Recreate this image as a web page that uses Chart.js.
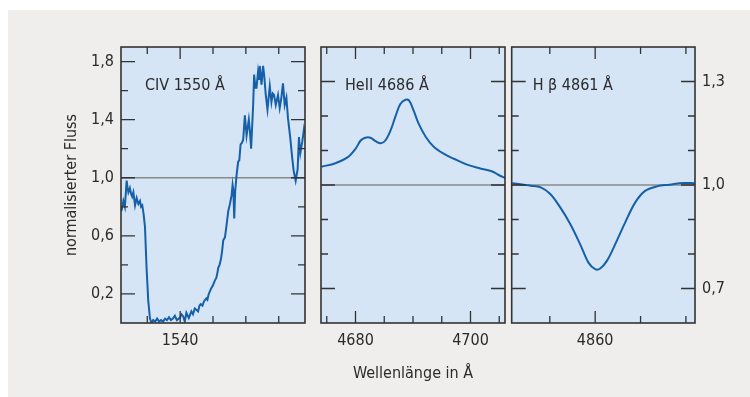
<!DOCTYPE html>
<html>
<head>
<meta charset="utf-8">
<script src="https://cdn.jsdelivr.net/npm/chart.js@4/dist/chart.umd.min.js"></script>
<style>
  body { margin: 0; background: #fff; width: 750px; height: 397px; overflow: hidden; position: relative; }
  #frame { position: absolute; left: 8px; top: 10px; width: 742px; height: 387px; background: #efeeec; }
  .panel { position: absolute; top: 37px; height: 350px; }
</style>
</head>
<body>
<div id="frame"></div>
<div class="panel" id="p1" style="left:40px;width:270px"><canvas id="civChart"></canvas></div>
<div class="panel" id="p2" style="left:315px;width:195px"><canvas id="heChart"></canvas></div>
<div class="panel" id="p3" style="left:505px;width:245px"><canvas id="hbChart"></canvas></div>
<script>
// CIV 1550 (P-Cygni profile)
const civWave = [1531.06, 1531.2, 1531.36, 1531.59, 1531.86, 1532.0, 1532.12, 1532.35, 1532.53, 1532.7, 1532.88,
  1533.14, 1533.38, 1533.64, 1533.89, 1534.05, 1534.24, 1534.44, 1534.65, 1534.89, 1535.15, 1535.41, 1535.65,
  1535.9, 1536.2, 1536.5, 1536.8, 1537.1, 1537.4, 1537.7, 1538.0, 1538.3, 1538.6, 1538.9, 1539.2, 1539.5,
  1539.95, 1540.2, 1540.45, 1540.71, 1540.95, 1541.32, 1541.71, 1541.95, 1542.23, 1542.5, 1542.73, 1542.95,
  1543.14, 1543.4, 1543.64, 1543.98, 1544.15, 1544.35, 1544.74, 1545.0, 1545.26, 1545.5, 1545.65, 1545.8,
  1546.0, 1546.21, 1546.4, 1546.56, 1546.82, 1547.08, 1547.32, 1547.58, 1547.83, 1547.98, 1548.1, 1548.23,
  1548.38, 1548.59, 1548.83, 1549.0, 1549.2, 1549.4, 1549.59, 1549.85, 1550.11, 1550.3, 1550.45, 1550.6,
  1550.8, 1551.11, 1551.26, 1551.45, 1551.62, 1551.86, 1552.0, 1552.12, 1552.38, 1552.62, 1552.8, 1553.03,
  1553.29, 1553.64, 1553.89, 1554.1, 1554.29, 1554.55, 1554.89, 1555.15, 1555.4, 1555.65, 1555.91, 1556.17,
  1556.41, 1556.77, 1557.02, 1557.27, 1557.58, 1557.88, 1558.08, 1558.29, 1558.59, 1558.83, 1558.94];
const civFlux = [0.77, 0.80, 0.84, 0.80, 0.98, 0.93, 0.90, 0.93, 0.89, 0.87, 0.90,
  0.81, 0.86, 0.82, 0.84, 0.80, 0.81, 0.75, 0.66, 0.38, 0.15, 0.03, 0.00,
  0.02, 0.01, 0.03, 0.01, 0.02, 0.01, 0.03, 0.02, 0.04, 0.02, 0.03, 0.05, 0.02,
  0.035, 0.06, 0.047, 0.01, 0.07, 0.035, 0.08, 0.06, 0.10, 0.09, 0.08, 0.12,
  0.13, 0.12, 0.15, 0.17, 0.16, 0.20, 0.24, 0.26, 0.29, 0.31, 0.34, 0.38,
  0.40, 0.44, 0.50, 0.57, 0.59, 0.68, 0.77, 0.82, 0.88, 0.95, 0.91, 0.72,
  0.91, 1.02, 1.11, 1.12, 1.23, 1.24, 1.26, 1.43, 1.29, 1.35, 1.40, 1.33,
  1.20, 1.50, 1.71, 1.62, 1.62, 1.73, 1.68, 1.77, 1.64, 1.77, 1.70, 1.57,
  1.47, 1.63, 1.52, 1.58, 1.57, 1.50, 1.57, 1.48, 1.55, 1.65, 1.50, 1.55,
  1.41, 1.27, 1.15, 1.05, 0.98, 1.06, 1.28, 1.17, 1.25, 1.33, 1.30];

// HeII 4686
const heWave = [4674.1, 4676.5, 4678.6, 4680.0, 4680.9, 4681.7, 4682.6, 4683.5, 4684.4, 4685.2, 4686.1, 4687.0,
  4687.8, 4688.7, 4689.3, 4690.1, 4691.0, 4692.2, 4693.6, 4695.4, 4697.1, 4699.4, 4701.7, 4703.8, 4704.9, 4706.1];
const heFlux = [1.053, 1.063, 1.080, 1.105, 1.129, 1.137, 1.137, 1.127, 1.121, 1.129, 1.158, 1.201,
  1.235, 1.247, 1.245, 1.216, 1.177, 1.140, 1.111, 1.090, 1.076, 1.059, 1.048, 1.039, 1.029, 1.020];

// H beta 4861
const hbWave = [4850.85, 4852.9, 4854.0, 4855.05, 4856.15, 4857.25, 4858.35, 4859.26, 4860.0, 4860.55,
  4861.29, 4862.2, 4863.3, 4864.4, 4865.5, 4866.8, 4868.2, 4869.7, 4871.0];
const hbFlux = [1.005, 0.998, 0.993, 0.974, 0.935, 0.887, 0.828, 0.775, 0.756, 0.758,
  0.780, 0.828, 0.891, 0.949, 0.983, 0.996, 1.001, 1.006, 1.005];

const civLabeledX = [1540];
const heLabeledX = [4680, 4700];
const hbLabeledX = [4860];

const FONT = "'Liberation Sans Narrow', 'DejaVu Sans Condensed', 'Roboto', sans-serif";
const FS = 16;
const TEXT = '#2b2b2b';
const LINE = '#1560a8';

function fmt(v) {
  return v.toFixed(1).replace('.', ',');
}

// panel background, reference line, inner ticks and label text
const panelPlugin = {
  id: 'panel',
  beforeDraw(chart) {
    const a = chart.chartArea, ctx = chart.ctx;
    ctx.save();
    ctx.fillStyle = '#d5e5f6';
    ctx.fillRect(a.left, a.top, a.right - a.left, a.bottom - a.top);
    ctx.restore();
  },
  beforeDatasetsDraw(chart) {
    const a = chart.chartArea, ctx = chart.ctx;
    const y = chart.scales.y.getPixelForValue(1.0);
    ctx.save();
    ctx.strokeStyle = '#8a8a8a';
    ctx.lineWidth = 1.5;
    ctx.beginPath();
    ctx.moveTo(a.left, y);
    ctx.lineTo(a.right, y);
    ctx.stroke();
    ctx.restore();
  },
  afterDatasetsDraw(chart, args, opts) {
    const a = chart.chartArea, ctx = chart.ctx;
    const xs = chart.scales.x, ys = chart.scales.y;
    ctx.save();
    ctx.strokeStyle = '#333';
    ctx.lineWidth = 1.3;
    ctx.beginPath();
    xs.ticks.forEach(t => {
      const px = xs.getPixelForValue(t.value);
      if (px < a.left + 2 || px > a.right - 2) return;
      const len = opts.xMajor.includes(t.value) ? 12 : 7;
      ctx.moveTo(px, a.bottom); ctx.lineTo(px, a.bottom - len);
      ctx.moveTo(px, a.top); ctx.lineTo(px, a.top + len);
    });
    ys.ticks.forEach(t => {
      const py = ys.getPixelForValue(t.value);
      if (py < a.top + 2 || py > a.bottom - 2) return;
      const len = opts.yMajor(t.value) ? 14 : 7;
      ctx.moveTo(a.left, py); ctx.lineTo(a.left + len, py);
      ctx.moveTo(a.right, py); ctx.lineTo(a.right - len, py);
    });
    ctx.stroke();
    ctx.lineWidth = 1.6;
    ctx.strokeRect(a.left, a.top, a.right - a.left, a.bottom - a.top);
    ctx.fillStyle = TEXT;
    ctx.font = FS + 'px ' + FONT;
    ctx.textBaseline = 'middle';
    ctx.fillText(opts.label, a.left + opts.labelX, a.top + 39);
    ctx.restore();
  }
};

function makeChart(id, wave, flux, o) {
  const points = wave.map((w, i) => ({ x: w, y: flux[i] }));
  return new Chart(document.getElementById(id), {
    type: 'line',
    data: {
      datasets: [{
        data: points,
        borderColor: LINE,
        borderWidth: 2,
        pointRadius: 0,
        tension: o.smooth ? 0.35 : 0
      }]
    },
    options: {
      responsive: true,
      maintainAspectRatio: false,
      animation: false,
      layout: { padding: { top: 10, left: o.padLeft, right: o.padRight, bottom: 0 } },
      plugins: {
        legend: { display: false },
        tooltip: { enabled: false },
        panel: { label: o.label, labelX: o.labelX, xMajor: o.xMajor, yMajor: o.yMajor }
      },
      scales: {
        x: {
          type: 'linear',
          min: o.xMin,
          max: o.xMax,
          grid: { display: false, drawTicks: false },
          border: { display: false },
          ticks: {
            stepSize: 5,
            includeBounds: false,
            autoSkip: false,
            maxRotation: 0,
            padding: 8,
            color: TEXT,
            font: { family: FONT, size: FS },
            callback: v => o.xMajor.includes(v) ? String(v) : ''
          },
          title: {
            display: !!o.xTitle,
            text: o.xTitle || '',
            color: TEXT,
            font: { family: FONT, size: FS },
            padding: { top: 0, bottom: 4 }
          },
          afterFit: s => { s.height = 64; s.paddingLeft = 0; s.paddingRight = 0; }
        },
        y: {
          position: o.yPos,
          min: o.yMin,
          max: o.yMax,
          grid: { display: false, drawTicks: false },
          border: { display: false },
          ticks: {
            display: o.yLabels,
            stepSize: o.yStep,
            includeBounds: false,
            autoSkip: false,
            padding: 7,
            color: TEXT,
            font: { family: FONT, size: FS },
            callback: v => o.yMajor(v) ? fmt(v) : ''
          },
          title: {
            display: !!o.yTitle,
            text: o.yTitle || '',
            color: TEXT,
            font: { family: FONT, size: FS },
            padding: { top: 22, bottom: 0 }
          },
          afterFit: s => { s.width = o.yWidth; s.paddingTop = 0; s.paddingBottom = 0; }
        }
      }
    },
    plugins: [panelPlugin]
  });
}

makeChart('civChart', civWave, civFlux, {
  label: 'CIV 1550 Å', labelX: 24,
  xMin: 1531, xMax: 1559, xMajor: civLabeledX,
  yMin: 0, yMax: 1.9, yStep: 0.2, yPos: 'left', yLabels: true,
  yMajor: v => Math.round(v * 10) % 4 === 2,
  yTitle: 'normalisierter Fluss', yWidth: 81,
  padLeft: 0, padRight: 5, smooth: false
});

makeChart('heChart', heWave, heFlux, {
  label: 'HeII 4686 Å', labelX: 24,
  xMin: 4674, xMax: 4706, xMajor: heLabeledX,
  yMin: 0.6, yMax: 1.4, yStep: 0.1, yPos: 'left', yLabels: false,
  yMajor: v => Math.round(v * 10) % 3 === 1,
  xTitle: 'Wellenlänge in Å', yWidth: 0,
  padLeft: 6, padRight: 5, smooth: true
});

makeChart('hbChart', hbWave, hbFlux, {
  label: 'H β 4861 Å', labelX: 21,
  xMin: 4850.8, xMax: 4871, xMajor: hbLabeledX,
  yMin: 0.6, yMax: 1.4, yStep: 0.1, yPos: 'right', yLabels: true,
  yMajor: v => Math.round(v * 10) % 3 === 1,
  yWidth: 55,
  padLeft: 6.7, padRight: 0, smooth: true
});
</script>
</body>
</html>
